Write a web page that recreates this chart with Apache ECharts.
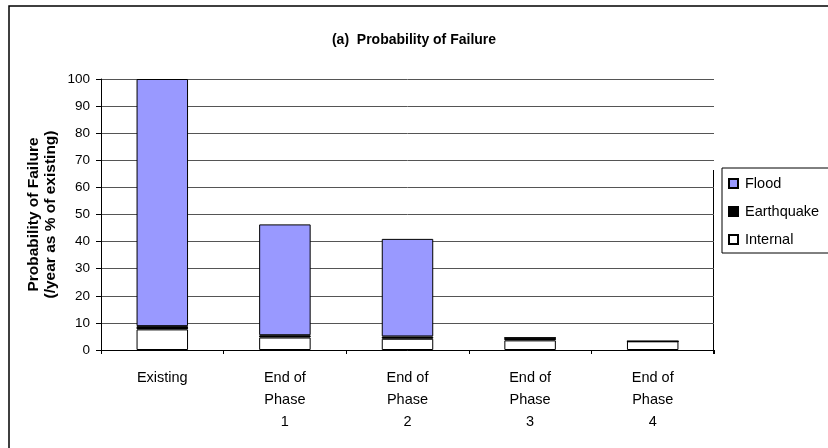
<!DOCTYPE html>
<html>
<head>
<meta charset="utf-8">
<script src="https://cdn.jsdelivr.net/npm/echarts@6/dist/echarts.min.js"></script>
<style>
  html, body { margin: 0; padding: 0; background: #fff; }
  #chart-container { width: 828px; height: 448px; }
</style>
</head>
<body>
<div id="chart-container"></div>
<script>
var categories = ['Existing', 'End of\nPhase\n1', 'End of\nPhase\n2', 'End of\nPhase\n3', 'End of\nPhase\n4'];
var internal = [7.6, 4.6, 4.15, 3.55, 3.2];
var earthquake = [1.2, 0.85, 0.85, 0.95, 0];
var flood = [91.2, 40.9, 36.0, 0, 0];

var dom = document.getElementById('chart-container');
var myChart = echarts.init(dom, null, {
  renderer: 'canvas',
  useDirtyRect: false
});

var font = 'Liberation Sans, Arial, sans-serif';
var barStyle = function (color) {
  return { color: color, borderColor: '#000', borderWidth: 1 };
};

var option = {
  backgroundColor: '#fff',
  animation: false,
  textStyle: { fontFamily: font },
  title: {
    text: '(a)  Probability of Failure',
    left: 'center',
    top: 28,
    textStyle: { fontFamily: font, fontSize: 14, fontWeight: 'bold', color: '#000' }
  },
  legend: {
    orient: 'vertical',
    left: 722,
    top: 168,
    width: 120,
    padding: [8, 20, 6, 6],
    borderColor: '#000',
    borderWidth: 1,
    itemWidth: 9,
    itemHeight: 9,
    itemGap: 13,
    icon: 'rect',
    textStyle: { fontFamily: font, fontSize: 14.5, color: '#000', padding: [0, 0, 0, 2] },
    data: ['Flood', 'Earthquake', 'Internal']
  },
  grid: {
    left: 101,
    right: 114,
    top: 79,
    bottom: 98
  },
  xAxis: {
    type: 'category',
    data: categories,
    axisLine: { lineStyle: { color: '#000', width: 1 } },
    axisTick: { show: true, length: 4, lineStyle: { color: '#000' } },
    axisLabel: {
      color: '#000',
      fontFamily: font,
      fontSize: 14.5,
      lineHeight: 22,
      margin: 17,
      interval: 0
    }
  },
  yAxis: {
    type: 'value',
    min: 0,
    max: 100,
    interval: 10,
    name: 'Probability of Failure\n(/year as % of existing)',
    nameLocation: 'middle',
    nameGap: 42,
    nameMoveOverlap: false,
    nameRotate: 90,
    nameTextStyle: { fontFamily: font, fontSize: 15.5, fontWeight: 'bold', color: '#000', lineHeight: 17 },
    axisLine: { show: true, lineStyle: { color: '#000', width: 1 } },
    axisTick: { show: true, length: 5, lineStyle: { color: '#000' } },
    axisLabel: { color: '#000', fontFamily: font, fontSize: 13.5, margin: 11 },
    splitLine: { lineStyle: { color: '#555', width: 1 } }
  },
  series: [
    {
      name: 'Internal',
      type: 'bar',
      stack: 'total',
      barWidth: '42%',
      data: internal,
      itemStyle: barStyle('#ffffff')
    },
    {
      name: 'Earthquake',
      type: 'bar',
      stack: 'total',
      data: earthquake,
      itemStyle: barStyle('#000000')
    },
    {
      name: 'Flood',
      type: 'bar',
      stack: 'total',
      data: flood,
      itemStyle: barStyle('#9999ff')
    }
  ],
  graphic: [
    {
      type: 'rect',
      shape: { x: 9, y: 6, width: 900, height: 500 },
      style: { fill: 'none', stroke: '#000', lineWidth: 1.5 },
      silent: true
    },
    {
      type: 'line',
      shape: { x1: 713.5, y1: 170, x2: 713.5, y2: 354 },
      style: { stroke: '#000', lineWidth: 1 },
      silent: true
    }
  ]
};

if (option && typeof option === 'object') {
  myChart.setOption(option);
}

window.addEventListener('resize', myChart.resize);
</script>
</body>
</html>
